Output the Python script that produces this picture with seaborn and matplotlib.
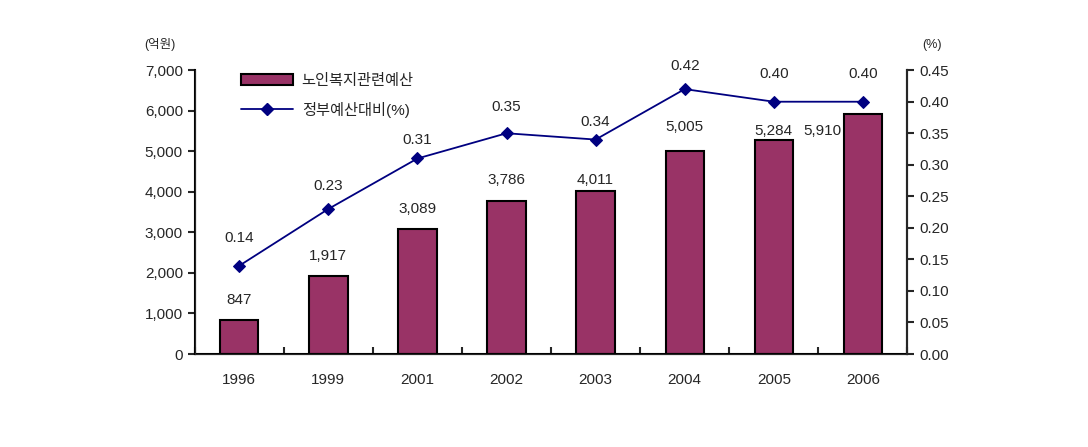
import numpy as np
import seaborn as sns
import matplotlib.pyplot as plt
from matplotlib.patches import Patch
from matplotlib.lines import Line2D

years = ['1996', '1999', '2001', '2002', '2003', '2004', '2005', '2006']
budget = [847, 1917, 3089, 3786, 4011, 5005, 5284, 5910]
ratio = [0.14, 0.23, 0.31, 0.35, 0.34, 0.42, 0.40, 0.40]

sns.set_style('white')
plt.rcParams['font.family'] = ['Liberation Sans', 'Noto Sans CJK KR', 'DejaVu Sans']
plt.rcParams['font.size'] = 11

fig = plt.figure(figsize=(10.88, 4.47), dpi=100)
ax = fig.add_axes([0.179, 0.208, 0.655, 0.635])

sns.barplot(x=years, y=budget, color='#993366', edgecolor='black', linewidth=1.5,
            width=0.43, saturation=1, ax=ax)
ax.set_xlim(-0.5, len(years) - 0.5)
ax.set_ylim(0, 7000)
ax.set_yticks(np.arange(0, 7001, 1000))
ax.set_yticklabels([f'{v:,}' for v in range(0, 7001, 1000)])
ax.set_xlabel('')
ax.tick_params(axis='y', direction='out', length=5, width=1.5, left=True, labelsize=11)
ax.tick_params(axis='x', length=0, pad=14, labelsize=11)
ax.set_xticks(np.arange(-0.5, len(years)), minor=True)
ax.tick_params(axis='x', which='minor', direction='in', length=5, width=1.5, bottom=True)
for s in ['left', 'bottom', 'right']:
    ax.spines[s].set_linewidth(1.5)
    ax.spines[s].set_color('black')
ax.spines['top'].set_visible(False)

# bar value labels
bar_offsets = [(0, 13), (0, 13), (0, 13), (0, 14), (0, 4), (0, 17), (0, 2), (-40, -24)]
for i, v in enumerate(budget):
    dx, dy = bar_offsets[i]
    ax.annotate(f'{v:,}', (i, v), xytext=(dx, dy), textcoords='offset pixels',
                ha='center', va='bottom', fontsize=11)

ax2 = ax.twinx()
sns.lineplot(x=np.arange(len(years)), y=ratio, ax=ax2, color='#000080', linewidth=1.3,
             marker='D', markersize=6, markeredgecolor='#000080')
ax2.set_ylim(0, 0.45)
ax2.set_yticks(np.arange(0, 0.451, 0.05))
ax2.set_yticklabels([f'{v:.2f}' for v in np.arange(0, 0.451, 0.05)])
ax2.tick_params(axis='y', direction='out', length=5, width=1.5, right=True, labelsize=11)
ax2.spines['top'].set_visible(False)
ax2.spines['right'].set_linewidth(1.5)
ax2.grid(False)
ax.grid(False)

line_offsets = [21, 16, 11, 19, 11, 16, 21, 21]
for i, v in enumerate(ratio):
    ax2.annotate(f'{v:.2f}', (i, v), xytext=(0, line_offsets[i]), textcoords='offset pixels',
                 ha='center', va='bottom', fontsize=11)

fig.text(0.133, 0.885, '(억원)', fontsize=9, ha='left', va='bottom')
fig.text(0.848, 0.885, '(%)', fontsize=9, ha='left', va='bottom')

handles = [Patch(facecolor='#993366', edgecolor='black', linewidth=1.5),
           Line2D([], [], color='#000080', marker='D', markersize=6, linewidth=1.3)]
ax.legend(handles, ['노인복지관련예산', '정부예산대비(%)'], loc='upper left',
          bbox_to_anchor=(0.045, 1.035), frameon=False, fontsize=11, handlelength=3.4,
          labelspacing=0.9, handletextpad=0.6)

fig.savefig('out.png', dpi=100)
